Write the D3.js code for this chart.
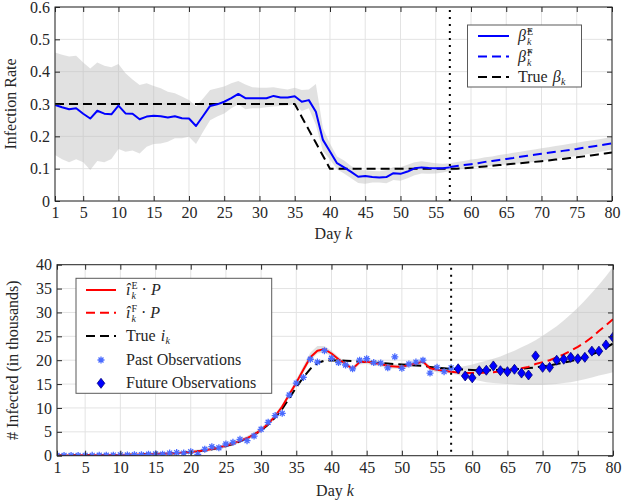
<!DOCTYPE html>
<html><head><meta charset="utf-8">
<script src="https://cdn.jsdelivr.net/npm/d3@7"></script>
<style>
body{margin:0;background:#fff}
text{fill:#262626}
</style>
</head><body>
<svg id="c" width="625" height="501"></svg>
<script>
// ---------------- data ----------------
const xTicks = [1,5,10,15,20,25,30,35,40,45,50,55,60,65,70,75,80];
const betaTicks = [0,0.1,0.2,0.3,0.4,0.5,0.6];
const betaTickLabels = ["0","0.1","0.2","0.3","0.4","0.5","0.6"];
const infTicks = [0,5,10,15,20,25,30,35,40];
const infTickLabels = ["0","5","10","15","20","25","30","35","40"];
const splitDay = 57;

// Top panel: estimated infection rate (days 1-57)
const betaEst = [0.297,0.29,0.284,0.287,0.27,0.255,0.279,0.27,0.268,0.295,0.271,0.27,0.253,0.261,0.264,0.262,0.258,0.262,0.256,0.255,0.232,0.263,0.294,0.299,0.307,0.318,0.331,0.318,0.318,0.318,0.318,0.325,0.32,0.32,0.324,0.307,0.312,0.276,0.189,0.153,0.117,0.104,0.09,0.075,0.077,0.074,0.073,0.074,0.086,0.084,0.091,0.101,0.104,0.102,0.101,0.101,0.104];
// forecast (days 57-80)
const betaFc = [0.105,0.108,0.111,0.114,0.117,0.121,0.124,0.127,0.130,0.133,0.137,0.140,0.143,0.146,0.149,0.152,0.155,0.158,0.161,0.165,0.168,0.171,0.175,0.178];
// true beta (days 1-80)
const betaTrue = [0.3,0.3,0.3,0.3,0.3,0.3,0.3,0.3,0.3,0.3,0.3,0.3,0.3,0.3,0.3,0.3,0.3,0.3,0.3,0.3,0.3,0.3,0.3,0.3,0.3,0.3,0.3,0.3,0.3,0.3,0.3,0.3,0.3,0.3,0.3,0.26,0.22,0.18,0.14,0.1,0.1,0.1,0.1,0.1,0.1,0.1,0.1,0.1,0.1,0.1,0.1,0.1,0.1,0.1,0.1,0.1,0.1,0.1,0.101,0.103,0.105,0.107,0.109,0.111,0.113,0.115,0.117,0.119,0.121,0.123,0.125,0.128,0.13,0.133,0.135,0.138,0.141,0.144,0.147,0.15];
// confidence band (days 1-80)
const betaHi = [0.459,0.452,0.447,0.449,0.428,0.41,0.428,0.418,0.414,0.424,0.395,0.376,0.359,0.364,0.356,0.349,0.338,0.333,0.323,0.312,0.292,0.317,0.343,0.349,0.354,0.364,0.371,0.36,0.352,0.35,0.35,0.352,0.348,0.345,0.35,0.343,0.345,0.362,0.225,0.178,0.138,0.125,0.108,0.096,0.095,0.093,0.092,0.095,0.105,0.104,0.112,0.12,0.123,0.12,0.117,0.115,0.117,0.121,0.124,0.128,0.131,0.135,0.138,0.142,0.145,0.149,0.152,0.156,0.159,0.163,0.166,0.17,0.173,0.177,0.18,0.184,0.187,0.19,0.194,0.197];
const betaLo = [0.142,0.129,0.12,0.129,0.12,0.096,0.124,0.12,0.13,0.161,0.152,0.156,0.147,0.168,0.176,0.178,0.183,0.194,0.194,0.199,0.176,0.214,0.25,0.261,0.271,0.287,0.299,0.284,0.287,0.287,0.29,0.292,0.294,0.295,0.3,0.278,0.287,0.235,0.155,0.128,0.098,0.085,0.07,0.056,0.053,0.057,0.057,0.055,0.065,0.063,0.07,0.08,0.085,0.084,0.085,0.088,0.093,0.097,0.1,0.103,0.105,0.107,0.109,0.111,0.113,0.115,0.117,0.119,0.121,0.124,0.127,0.13,0.133,0.136,0.139,0.143,0.147,0.151,0.155,0.159];

// Bottom panel: infected (thousands)
const obsPast = [0.05,0.05,0.05,0.05,0.08,0.08,0.1,0.1,0.12,0.18,0.15,0.2,0.22,0.3,0.35,0.3,0.55,0.65,0.55,0.84,0.29,1.34,1.88,1.67,2.45,2.8,3.43,3.15,4.12,5.53,7.0,8.4,8.87,12.7,15.2,16.4,20.2,19.6,22.0,20.4,19.5,19.0,18.2,20.0,20.3,19.5,19.4,18.4,20.7,18.3,19.2,19.6,20.0,17.3,18.5,17.6,18.4];
const obsFuture = [18.2,16.7,16.3,17.8,17.9,18.8,17.8,17.6,18.1,17.3,16.9,20.9,18.5,18.5,20.0,20.2,20.6,20.3,20.6,21.9,21.9,23.2,24.8];
const infEst = [0.05,0.05,0.06,0.07,0.08,0.09,0.1,0.12,0.14,0.16,0.18,0.21,0.25,0.29,0.34,0.4,0.47,0.56,0.66,0.8,0.95,1.15,1.4,1.7,2.1,2.55,3.1,3.7,4.4,5.4,6.7,8.3,10.3,12.8,15.3,18.0,20.6,22.0,22.3,21.4,20.2,19.2,18.2,19.6,19.7,19.4,19.2,18.8,18.7,18.6,19.0,19.3,19.7,18.3,18.0,17.8,17.6];
const infFc = [17.6,17.4,17.3,17.3,17.3,17.4,17.5,17.7,17.9,18.1,18.3,18.6,19.2,19.6,20.0,20.6,21.2,22.0,22.8,23.7,24.8,26.1,27.3,28.6];
const infTrue = [0.05,0.05,0.06,0.07,0.08,0.09,0.1,0.12,0.14,0.16,0.18,0.21,0.25,0.29,0.34,0.4,0.47,0.55,0.65,0.77,0.92,1.1,1.35,1.65,2.0,2.45,3.0,3.6,4.4,5.3,6.5,8.0,9.8,12.0,14.3,16.4,18.2,19.4,19.9,20.0,19.95,19.9,19.8,19.7,19.6,19.5,19.4,19.3,19.2,19.1,19.0,18.9,18.8,18.6,18.4,18.3,18.2,18.1,18.0,17.95,17.9,17.9,17.9,18.0,18.05,18.1,18.2,18.35,18.5,18.7,18.9,19.2,19.5,19.8,20.2,20.7,21.2,21.8,22.6,23.5];
const infHi = [0.3,0.3,0.3,0.3,0.35,0.35,0.4,0.4,0.4,0.45,0.45,0.5,0.55,0.6,0.65,0.7,0.8,0.9,1.0,1.15,1.3,1.5,1.8,2.1,2.5,3.0,3.5,4.1,4.9,5.9,7.2,8.8,10.8,13.4,16.0,18.8,21.6,23.0,23.0,22.0,20.7,19.7,18.7,20.1,20.2,19.9,19.7,19.3,19.2,19.1,19.5,19.8,20.2,18.8,18.5,18.3,18.0,18.5,18.8,19.1,19.5,19.9,20.3,20.8,21.4,22.0,22.7,23.4,24.2,25.1,26.1,27.1,28.3,29.6,31.0,32.5,34.1,35.8,37.6,39.5];
const infLo = [0,0,0,0,0,0,0,0,0,0,0,0,0,0,0.05,0.1,0.15,0.25,0.35,0.5,0.65,0.8,1.0,1.3,1.7,2.1,2.7,3.3,3.9,4.9,6.2,7.8,9.8,12.2,14.6,17.3,19.9,21.4,21.6,20.8,19.7,18.7,17.7,19.1,19.2,18.9,18.7,18.3,18.2,18.1,18.5,18.8,19.2,17.8,17.5,17.3,17.2,16.9,16.5,16.0,15.7,15.4,15.2,15.1,15.0,14.9,14.8,14.8,14.8,14.8,14.9,15.0,15.2,15.4,15.7,16.0,16.4,16.8,17.1,17.5];

// ---------------- font detection ----------------
function pickFont(cands) {
  const cv = document.createElement("canvas").getContext("2d");
  const probe = "Infection Rate 0123456789 Observations";
  const w = f => { cv.font = "40px " + f; return cv.measureText(probe).width; };
  const base1 = w("monospace"), base2 = w("sans-serif");
  for (const c of cands) {
    const a = w(`"${c}", monospace`), b = w(`"${c}", sans-serif`);
    if (a !== base1 || b !== base2) { if (Math.abs(a - b) < 0.01) return `"${c}"`; }
  }
  return "serif";
}
const FONT = pickFont(["Liberation Serif", "DejaVu Serif", "Times New Roman", "Tinos", "Noto Serif", "FreeSerif", "Nimbus Roman", "Nimbus Roman No9 L", "Times"]);
const FS = FONT.includes("DejaVu") ? 14 : 16;
d3.select("style").node().textContent += `text{font-family:${FONT};}`;

// ---------------- drawing ----------------
const svg = d3.select("#c");
const days = d3.range(1, 81);
const pastDays = d3.range(1, splitDay + 1);
const fcDays = d3.range(splitDay, 81);
const futDays = d3.range(splitDay + 1, 81);

function panel(o) {
  const x = d3.scaleLinear().domain([1, 80]).range([o.l, o.r]);
  const y = d3.scaleLinear().domain(o.yd).range([o.b, o.t]);
  const g = svg.append("g");
  const id = "clip" + o.name;
  svg.append("clipPath").attr("id", id).append("rect")
    .attr("x", o.l).attr("y", o.t).attr("width", o.r - o.l).attr("height", o.b - o.t);
  g.append("g").selectAll("line").data(xTicks).enter().append("line")
    .attr("x1", d => x(d)).attr("x2", d => x(d)).attr("y1", o.t).attr("y2", o.b)
    .attr("stroke", "#e3e3e3").attr("stroke-width", 1);
  g.append("g").selectAll("line").data(o.yt).enter().append("line")
    .attr("y1", d => y(d)).attr("y2", d => y(d)).attr("x1", o.l).attr("x2", o.r)
    .attr("stroke", "#e3e3e3").attr("stroke-width", 1);
  const plot = g.append("g").attr("clip-path", `url(#${id})`);
  return { x, y, g, plot, o };
}

function axes(p, yLabels) {
  const { x, y, g, o } = p;
  const ax = (gen, tr) => {
    const a = g.append("g").attr("transform", tr).call(gen);
    a.attr("font-family", null).attr("font-size", FS);
    a.select(".domain").remove();
    a.selectAll(".tick line").attr("stroke", "#262626");
    a.selectAll("text").attr("font-size", FS).attr("fill", "#262626");
    return a;
  };
  ax(d3.axisBottom(x).tickValues(xTicks).tickSizeInner(-5).tickSizeOuter(0).tickPadding(6).tickFormat(d3.format("d")), `translate(0,${o.b})`);
  ax(d3.axisTop(x).tickValues(xTicks).tickSizeInner(-5).tickSizeOuter(0).tickFormat(""), `translate(0,${o.t})`);
  ax(d3.axisLeft(y).tickValues(o.yt).tickSizeInner(-5).tickSizeOuter(0).tickPadding(5).tickFormat((d, i) => yLabels[i]), `translate(${o.l},0)`);
  ax(d3.axisRight(y).tickValues(o.yt).tickSizeInner(-5).tickSizeOuter(0).tickFormat(""), `translate(${o.r},0)`);
  g.append("rect").attr("x", o.l).attr("y", o.t).attr("width", o.r - o.l).attr("height", o.b - o.t)
    .attr("fill", "none").attr("stroke", "#262626").attr("stroke-width", 1);
  const xl = g.append("text").attr("x", (o.l + o.r) / 2).attr("y", o.b + o.xlab).attr("text-anchor", "middle").attr("font-size", FS);
  xl.append("tspan").text("Day ");
  xl.append("tspan").attr("font-style", "italic").text("k");
  g.append("text").attr("transform", `translate(${o.ylx},${(o.t + o.b) / 2}) rotate(-90)`)
    .attr("text-anchor", "middle").attr("font-size", FS).text(o.ylab);
}

function band(p, lo, hi) {
  const area = d3.area().x((d, i) => p.x(days[i])).y0((d, i) => p.y(lo[i])).y1((d, i) => p.y(hi[i]));
  p.plot.append("path").attr("d", area(lo)).attr("fill", "#bdbdbd").attr("fill-opacity", 0.45).attr("stroke", "none");
}
function line(p, xs, vals, color, dash) {
  const l = d3.line().x((d, i) => p.x(xs[i])).y(d => p.y(d));
  p.plot.append("path").attr("d", l(vals)).attr("fill", "none").attr("stroke", color)
    .attr("stroke-width", 2).attr("stroke-dasharray", dash || null).attr("stroke-linejoin", "round");
}
function split(p) {
  p.g.append("line").attr("x1", p.x(splitDay)).attr("x2", p.x(splitDay))
    .attr("y1", p.o.t + 3).attr("y2", p.o.b).attr("stroke", "#000").attr("stroke-width", 2)
    .attr("stroke-dasharray", "2,5");
}
function asterisk(g, cx, cy, r) {
  const s = r * 0.707;
  g.append("path").attr("d", `M${cx - r},${cy}H${cx + r}M${cx},${cy - r}V${cy + r}M${cx - s},${cy - s}L${cx + s},${cy + s}M${cx - s},${cy + s}L${cx + s},${cy - s}`)
    .attr("stroke", "#4a6bff").attr("stroke-width", 1.3).attr("fill", "none");
}
function diamond(g, cx, cy) {
  g.append("path").attr("d", `M${cx},${cy - 5}L${cx + 3.8},${cy}L${cx},${cy + 5}L${cx - 3.8},${cy}Z`)
    .attr("fill", "#0000ff").attr("stroke", "#00007a").attr("stroke-width", 0.8);
}
function mathText(g, x0, cy, items) {
  let x = x0;
  items.forEach(it => {
    if (it.script) {
      let w = 0;
      it.script.forEach(sc => {
        const t = g.append("text").attr("x", x).attr("y", cy + sc.dy).attr("font-size", 10)
          .attr("font-style", sc.i ? "italic" : "normal").text(sc.t);
        w = Math.max(w, t.node().getComputedTextLength());
      });
      x += w + (it.gap || 0);
    } else {
      const t = g.append("text").attr("x", x).attr("y", cy + 5).attr("font-size", FS)
        .attr("font-style", it.i ? "italic" : "normal").attr("xml:space", "preserve").text(it.t);
      x += t.node().getComputedTextLength() + (it.gap || 0);
    }
  });
}

// ---- top panel ----
const topP = panel({ name: "t", l: 55, r: 612, t: 7, b: 201, yd: [0, 0.6], yt: betaTicks, xlab: 38, ylx: 16, ylab: "Infection Rate" });
band(topP, betaLo, betaHi);
line(topP, days, betaTrue, "#000", "9,5");
line(topP, pastDays, betaEst, "#0000ff");
line(topP, fcDays, betaFc, "#0000ff", "9,5");
split(topP);
axes(topP, betaTickLabels);

// ---- bottom panel ----
const botP = panel({ name: "b", l: 57, r: 613, t: 264.7, b: 455.7, yd: [0, 40], yt: infTicks, xlab: 40, ylx: 18, ylab: "# Infected (in thousands)" });
band(botP, infLo, infHi);
line(botP, days, infTrue, "#000", "9,5");
line(botP, pastDays, infEst, "#ff0000");
line(botP, fcDays, infFc, "#ff0000", "9,5");
pastDays.forEach((d, i) => asterisk(botP.plot, botP.x(d), botP.y(obsPast[i]), 3.5));
futDays.forEach((d, i) => diamond(botP.plot, botP.x(d), botP.y(obsFuture[i])));
split(botP);
axes(botP, infTickLabels);

// ---- legends ----
const samp = (g, y, x1, x2, c, dash) => g.append("line").attr("x1", x1).attr("x2", x2).attr("y1", y).attr("y2", y)
  .attr("stroke", c).attr("stroke-width", 2).attr("stroke-dasharray", dash || null);

const lg1 = svg.append("g");
lg1.append("rect").attr("x", 467.5).attr("y", 25).attr("width", 114).attr("height", 62)
  .attr("fill", "#fff").attr("stroke", "#5a5a5a").attr("stroke-width", 1);
const r1 = [36, 56.5, 77];
samp(lg1, r1[0], 478, 509, "#0000ff");
samp(lg1, r1[1], 478, 509, "#0000ff", "9,5");
samp(lg1, r1[2], 478, 509, "#000", "9,5");
mathText(lg1, 518, r1[0], [{ t: "β\u0302", i: 1, gap: 1 }, { script: [{ t: "E", dy: -1 }, { t: "k", dy: 9, i: 1 }] }]);
mathText(lg1, 518, r1[1], [{ t: "β\u0302", i: 1, gap: 1 }, { script: [{ t: "F", dy: -1 }, { t: "k", dy: 9, i: 1 }] }]);
mathText(lg1, 518, r1[2], [{ t: "True ", gap: 1 }, { t: "β", i: 1, gap: 0.5 }, { script: [{ t: "k", dy: 8, i: 1 }] }]);

const lg2 = svg.append("g");
lg2.append("rect").attr("x", 76).attr("y", 278.3).attr("width", 195.7).attr("height", 115)
  .attr("fill", "#fff").attr("stroke", "#5a5a5a").attr("stroke-width", 1);
const r2 = [290, 312.7, 336, 360, 383.3];
samp(lg2, r2[0], 86, 116, "#ff0000");
samp(lg2, r2[1], 86, 116, "#ff0000", "9,5");
samp(lg2, r2[2], 86, 116, "#000", "9,5");
asterisk(lg2, 101, r2[3], 3.5);
diamond(lg2, 101, r2[4]);
mathText(lg2, 126, r2[0], [{ t: "\u00ee", i: 1, gap: 1 }, { script: [{ t: "E", dy: -1 }, { t: "k", dy: 9, i: 1 }], gap: 4 }, { t: "\u00b7", gap: 4 }, { t: "P", i: 1 }]);
mathText(lg2, 126, r2[1], [{ t: "\u00ee", i: 1, gap: 1 }, { script: [{ t: "F", dy: -1 }, { t: "k", dy: 9, i: 1 }], gap: 4 }, { t: "\u00b7", gap: 4 }, { t: "P", i: 1 }]);
mathText(lg2, 126, r2[2], [{ t: "True ", gap: 1 }, { t: "i", i: 1, gap: 0.5 }, { script: [{ t: "k", dy: 8, i: 1 }] }]);
mathText(lg2, 126, r2[3], [{ t: "Past Observations" }]);
mathText(lg2, 126, r2[4], [{ t: "Future Observations" }]);
</script>
</body></html>
